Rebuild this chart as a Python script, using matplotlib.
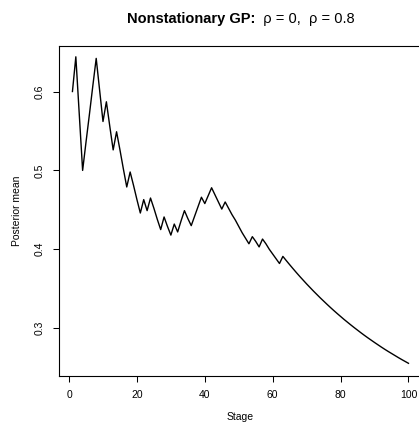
import matplotlib
matplotlib.use("Agg")
import matplotlib.pyplot as plt

plt.rcParams['font.family'] = ['Liberation Sans', 'DejaVu Sans']

stages = list(range(1, 101))
posterior_mean = [
    0.600, 0.644, 0.572, 0.500, 0.536, 0.571, 0.607, 0.642, 0.602, 0.562,
    0.587, 0.556, 0.526, 0.549, 0.526, 0.502, 0.479, 0.498, 0.481, 0.463,
    0.446, 0.463, 0.449, 0.465, 0.452, 0.438, 0.425, 0.441, 0.429, 0.418,
    0.432, 0.422, 0.436, 0.449, 0.439, 0.430, 0.442, 0.454, 0.466, 0.458,
    0.468, 0.478, 0.469, 0.460, 0.451, 0.460, 0.452, 0.444, 0.437, 0.429,
    0.421, 0.414, 0.407, 0.416, 0.410, 0.403, 0.413, 0.407, 0.400, 0.394,
    0.388, 0.382, 0.391, 0.3857, 0.3805, 0.3754, 0.3704, 0.3655, 0.3608, 0.3561,
    0.3516, 0.3471, 0.3428, 0.3385, 0.3344, 0.3303, 0.3263, 0.3224, 0.3186, 0.3149,
    0.3112, 0.3077, 0.3042, 0.3008, 0.2975, 0.2942, 0.2910, 0.2879, 0.2849, 0.2819,
    0.2790, 0.2761, 0.2733, 0.2706, 0.2680, 0.2654, 0.2628, 0.2603, 0.2579, 0.2555,
]
x_ticks = [0, 20, 40, 60, 80, 100]
y_ticks = [0.3, 0.4, 0.5, 0.6]
y_tick_labels = ["0.3", "0.4", "0.5", "0.6"]
title_bold = "Nonstationary GP:"
title_plain = "  ρ = 0,  ρ = 0.8"
x_label = "Stage"
y_label = "Posterior mean"

W, H = 419, 429
fig = plt.figure(figsize=(W / 100, H / 100), dpi=100)
left_px, right_px, top_px, bottom_px = 59, 421.9, 46, 376
ax = fig.add_axes([left_px / W, 1 - bottom_px / H,
                   (right_px - left_px) / W, (bottom_px - top_px) / H])
ax.plot(stages, posterior_mean, color='black', linewidth=1.0)
ax.set_xlim(-2.96, 103.96)
ax.set_ylim(0.2394, 0.6577)
ax.set_xticks(x_ticks)
ax.set_xticklabels([str(t) for t in x_ticks])
ax.set_yticks(y_ticks)
ax.set_yticklabels(y_tick_labels, rotation=90, va='center')
ax.tick_params(axis='both', direction='out', length=4.3, width=0.75,
               labelsize=7.5, pad=6)
for s in ax.spines.values():
    s.set_linewidth(0.8)

fig.text(240.5 / W, 1 - 416.7 / H, x_label, ha='center', va='center', fontsize=7.5)
fig.text(16.7 / W, 1 - 211 / H, y_label, ha='center', va='center', rotation=90, fontsize=7.5)

# Title with bold and plain parts, centered over axes
r = fig.canvas.get_renderer()
fs_title = 10.5
tb = fig.text(0, 0, title_bold, fontsize=fs_title, fontweight='bold')
tp = fig.text(0, 0, title_plain, fontsize=fs_title)
wb = tb.get_window_extent(r).width
wp = tp.get_window_extent(r).width
total = wb + wp
cx = 240.5
x0 = cx - total / 2
ty = 1 - 23.3 / H
tb.set_position((x0 / W, ty))
tb.set_va('baseline')
tp.set_position(((x0 + wb) / W, ty))
tp.set_va('baseline')

fig.savefig("out.png", dpi=100)
